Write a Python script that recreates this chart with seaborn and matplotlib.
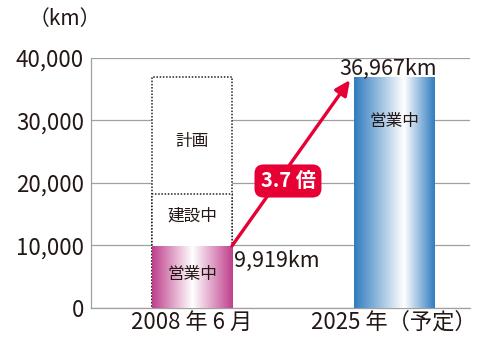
import matplotlib
matplotlib.use("Agg")
import matplotlib.pyplot as plt
import numpy as np
import pandas as pd
import seaborn as sns
from matplotlib.colors import LinearSegmentedColormap
from matplotlib.ticker import FuncFormatter

# --- data ---
periods = ["2008 年 6 月", "2025 年（予定）"]
operating = [9919, 36967]
construction_top = [18200, 0]
plan_top = [36967, 0]
ratio_label = "3.7 倍"

sns.set_theme(style="white")
plt.rcParams["font.family"] = ["Noto Sans CJK JP", "DejaVu Sans"]

ink = "#231815"
grid_col = "#a0a0a0"

df = pd.DataFrame({
    "period": periods * 3,
    "value": plan_top + construction_top + operating,
    "layer": ["計画"] * 2 + ["建設中"] * 2 + ["営業中"] * 2,
})

fig = plt.figure(figsize=(5.0, 3.51), dpi=100)
ax = fig.add_axes([0.182, 0.123, 0.758, 0.712])

width = 0.396
# dotted outlines for the planned / under-construction parts
for layer in ["計画", "建設中"]:
    sub = df[(df["layer"] == layer) & (df["value"] > 0)]
    sns.barplot(data=sub, x="period", y="value", order=periods, width=width,
                color="white", edgecolor="#222222", linewidth=1.1,
                linestyle=(0, (1, 1.1)), ax=ax, errorbar=None, zorder=2)
n_before = len(ax.patches)
sub = df[df["layer"] == "営業中"]
sns.barplot(data=sub, x="period", y="value", order=periods, width=width,
            color="white", linewidth=0, ax=ax, errorbar=None, zorder=3)

# gradient fills for the operating bars
cmaps = [
    LinearSegmentedColormap.from_list("pink", [(0, "#bf3f8c"), (0.5, "#ffffff"), (1, "#bf3f8c")]),
    LinearSegmentedColormap.from_list("blue", [(0, "#2f7cc0"), (0.62, "#ffffff"), (1, "#2f7cc0")]),
]
grad = np.linspace(0, 1, 256).reshape(1, -1)
for patch, cmap in zip(ax.patches[n_before:], cmaps):
    x0, y0 = patch.get_x(), patch.get_y()
    w, h = patch.get_width(), patch.get_height()
    im = ax.imshow(grad, cmap=cmap, aspect="auto", extent=[x0, x0 + w, y0, y0 + h],
                   zorder=3, interpolation="bilinear")
    im.set_clip_path(patch)
    patch.set_facecolor("none")

ax.set_xlim(-0.5, 1.376)
ax.set_ylim(0, 40000)
ax.set_yticks([0, 10000, 20000, 30000, 40000])
ax.yaxis.set_major_formatter(FuncFormatter(lambda v, p: f"{int(v):,}"))
ax.grid(axis="y", color=grid_col, linewidth=0.9, zorder=0)
ax.set_axisbelow(True)
for s in ["top", "right"]:
    ax.spines[s].set_visible(False)
for s in ["left", "bottom"]:
    ax.spines[s].set_color(grid_col)
    ax.spines[s].set_linewidth(0.9)
ax.tick_params(axis="both", length=0, labelsize=16, colors=ink, pad=5)
ax.tick_params(axis="x", labelsize=16, pad=2)
ax.set_xlabel("")
ax.set_ylabel("")

# bar labels
fs_in = 12
ax.text(0, (construction_top[0] + plan_top[0]) / 2 - 1000, "計画", ha="center", va="center", fontsize=fs_in, color=ink, zorder=4)
ax.text(0, (operating[0] + construction_top[0]) / 2 + 700, "建設中", ha="center", va="center", fontsize=fs_in, color=ink, zorder=4)
ax.text(0, operating[0] / 2 + 300, "営業中", ha="center", va="center", fontsize=fs_in, color=ink, zorder=4)
ax.text(1, operating[1] - 7200, "営業中", ha="center", va="center", fontsize=fs_in, color=ink, zorder=4)

ax.text(width / 2 + 0.01, operating[0] - 600, f"{operating[0]:,}km", ha="left", va="top", fontsize=15.5, color=ink, zorder=4)
ax.text(1 - 0.03, operating[1] - 500, f"{operating[1]:,}km", ha="center", va="bottom", fontsize=15.5, color=ink, zorder=4)

# growth arrow
red = "#e60033"
ax.annotate("", xy=(1 - width / 2 - 0.02, operating[1] - 500), xytext=(width / 2, operating[0]),
            arrowprops=dict(arrowstyle="-|>,head_length=0.75,head_width=0.35", color=red, lw=2.4,
                            shrinkA=0, shrinkB=0), zorder=5)
ax.text(0.475, 20300, ratio_label, ha="center", va="center", fontsize=14.5, fontweight="bold",
        color="white", zorder=6,
        bbox=dict(boxstyle="round,pad=0.3,rounding_size=0.45", fc=red, ec="none"))

fig.text(0.13, 0.945, "（km）", ha="center", va="center", fontsize=15, color=ink)

fig.savefig("out.png", dpi=100)
